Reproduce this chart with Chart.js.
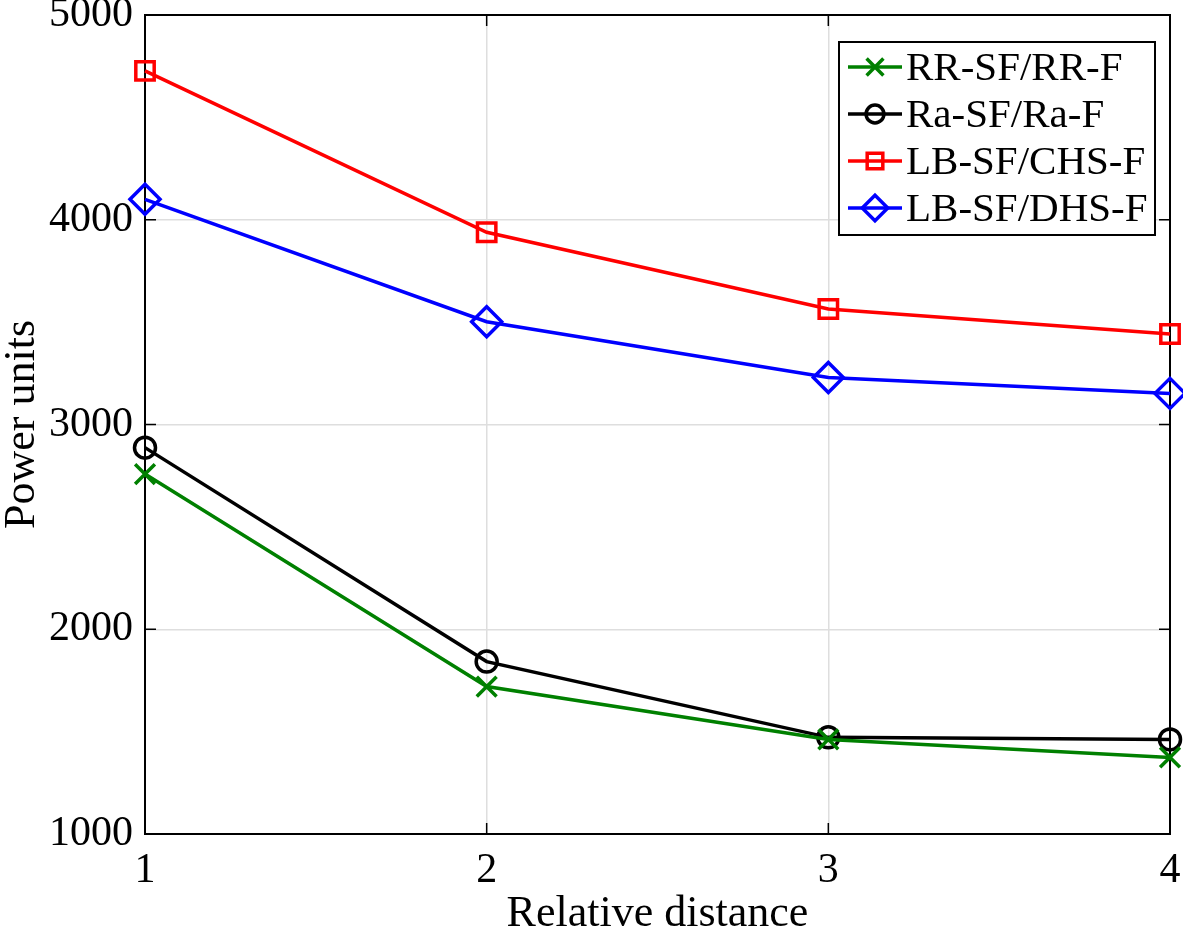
<!DOCTYPE html>
<html>
<head>
<meta charset="utf-8">
<script src="https://cdn.jsdelivr.net/npm/chart.js@4.4.1/dist/chart.umd.min.js"></script>
<style>
html,body{margin:0;padding:0;background:#fff;}
#wrap{width:1183px;height:934px;position:relative;}
</style>
</head>
<body>
<div id="wrap"><canvas id="c" width="1183" height="934"></canvas></div>
<script>
const xValues = [1, 2, 3, 4];
const seriesNames = ['RR-SF/RR-F', 'Ra-SF/Ra-F', 'LB-SF/CHS-F', 'LB-SF/DHS-F'];
const rrValues = [2758, 1720, 1462, 1374];
const raValues = [2887, 1842, 1472, 1462];
const chsValues = [4727, 3939, 3564, 3442];
const dhsValues = [4100, 3502, 3230, 3152];
const yTicks = [1000, 2000, 3000, 4000, 5000];
const xTicks = [1, 2, 3, 4];
const xTitle = 'Relative distance';
const yTitle = 'Power units';

const FONT = '"Liberation Serif", "DejaVu Serif", serif';
const toPts = vals => xValues.map((x, i) => ({x: x, y: vals[i]}));

const styles = [
  {color: '#008000', pointStyle: 'crossRot', radius: 14},
  {color: '#000000', pointStyle: 'circle', radius: 10.5},
  {color: '#ff0000', pointStyle: 'rect', radius: 13},
  {color: '#0000ff', pointStyle: 'rectRot', radius: 15}
];
const allVals = [rrValues, raValues, chsValues, dhsValues];

const datasets = allVals.map((v, i) => ({
  label: seriesNames[i],
  data: toPts(v),
  borderColor: styles[i].color,
  backgroundColor: 'rgba(0,0,0,0)',
  borderWidth: 3.5,
  pointStyle: styles[i].pointStyle,
  pointRadius: styles[i].radius,
  pointHoverRadius: styles[i].radius,
  pointBorderWidth: 3.5,
  pointBorderColor: styles[i].color,
  pointBackgroundColor: 'rgba(0,0,0,0)',
  tension: 0,
  fill: false,
  clip: false
}));

// fixed plot-area geometry (matches the reference figure)
const AREA = {left: 145, top: 15, right: 1170, bottom: 834};

const areaPlugin = {
  id: 'fixedArea',
  afterLayout(chart) {
    const W = chart.width, H = chart.height;
    const ca = chart.chartArea;
    ca.left = AREA.left; ca.top = AREA.top; ca.right = AREA.right; ca.bottom = AREA.bottom;
    ca.width = AREA.right - AREA.left; ca.height = AREA.bottom - AREA.top;
    const xs = chart.scales.x, ys = chart.scales.y;
    xs.left = AREA.left; xs.right = AREA.right; xs.width = AREA.right - AREA.left;
    xs.top = AREA.bottom; xs.bottom = H; xs.height = H - AREA.bottom;
    ys.left = 0; ys.right = AREA.left; ys.width = AREA.left;
    ys.top = AREA.top; ys.bottom = AREA.bottom; ys.height = AREA.bottom - AREA.top;
    xs.configure(); ys.configure();
  }
};

const framePlugin = {
  id: 'frame',
  beforeDatasetsDraw(chart) {
    const ctx = chart.ctx, a = chart.chartArea;
    const xs = chart.scales.x, ys = chart.scales.y;
    ctx.save();
    ctx.strokeStyle = '#000';
    ctx.lineWidth = 2;
    ctx.strokeRect(a.left, a.top, a.right - a.left, a.bottom - a.top);
    ctx.lineWidth = 1.5;
    const L = 11;
    ctx.beginPath();
    yTicks.forEach(t => {
      const y = ys.getPixelForValue(t);
      ctx.moveTo(a.left, y); ctx.lineTo(a.left + L, y);
      ctx.moveTo(a.right, y); ctx.lineTo(a.right - L, y);
    });
    xTicks.forEach(t => {
      const x = xs.getPixelForValue(t);
      ctx.moveTo(x, a.bottom); ctx.lineTo(x, a.bottom - L);
      ctx.moveTo(x, a.top); ctx.lineTo(x, a.top + L);
    });
    ctx.stroke();
    ctx.restore();
  },
  afterDraw(chart) {
    const ctx = chart.ctx, a = chart.chartArea;
    const boxL = a.right - 331, boxT = a.top + 27, boxW = 316, boxH = 193;
    ctx.save();
    ctx.fillStyle = '#fff';
    ctx.fillRect(boxL, boxT, boxW, boxH);
    ctx.strokeStyle = '#000';
    ctx.lineWidth = 2;
    ctx.strokeRect(boxL, boxT, boxW, boxH);
    ctx.textBaseline = 'middle';
    ctx.textAlign = 'left';
    chart.data.datasets.forEach((ds, i) => {
      const cy = boxT + 25 + i * 47;
      const x0 = boxL + 9, x1 = boxL + 63, cx = (x0 + x1) / 2;
      ctx.strokeStyle = ds.borderColor;
      ctx.fillStyle = 'rgba(0,0,0,0)';
      ctx.lineWidth = 3.5;
      ctx.beginPath(); ctx.moveTo(x0, cy); ctx.lineTo(x1, cy); ctx.stroke();
      ctx.lineWidth = 3.5;
      Chart.helpers.drawPoint(ctx, {
        pointStyle: ds.pointStyle,
        radius: ds.pointRadius * 0.85,
        rotation: 0,
        borderWidth: 3.5
      }, cx, cy);
      ctx.fillStyle = '#000';
      ctx.font = '41px ' + FONT;
      ctx.fillText(ds.label, boxL + 67, cy + 2);
    });
    ctx.restore();
  }
};

new Chart(document.getElementById('c'), {
  type: 'line',
  data: {datasets: datasets},
  plugins: [areaPlugin, framePlugin],
  options: {
    responsive: false,
    animation: false,
    events: [],
    layout: {padding: {left: 0, right: 13, top: 15, bottom: 0}},
    plugins: {legend: {display: false}, tooltip: {enabled: false}},
    scales: {
      x: {
        type: 'linear', min: 1, max: 4,
        afterBuildTicks: s => { s.ticks = xTicks.map(v => ({value: v})); },
        afterFit: s => { s.height = 100; },
        grid: {color: '#dedede', lineWidth: 1.5, drawTicks: false},
        border: {display: false},
        ticks: {color: '#000', font: {family: FONT, size: 42}, padding: 12, maxRotation: 0},
        title: {display: true, text: xTitle, color: '#000', font: {family: FONT, size: 44}, padding: {top: 0, bottom: -7}}
      },
      y: {
        type: 'linear', min: 1000, max: 5000,
        afterBuildTicks: s => { s.ticks = yTicks.map(v => ({value: v})); },
        afterFit: s => { s.width = 145; },
        grid: {color: '#dedede', lineWidth: 1.5, drawTicks: false},
        border: {display: false},
        ticks: {color: '#000', font: {family: FONT, size: 42}, padding: 12, callback: v => String(v)},
        title: {display: true, text: yTitle, color: '#000', font: {family: FONT, size: 44}, padding: {top: -4, bottom: 0}}
      }
    }
  }
});
</script>
</body>
</html>
